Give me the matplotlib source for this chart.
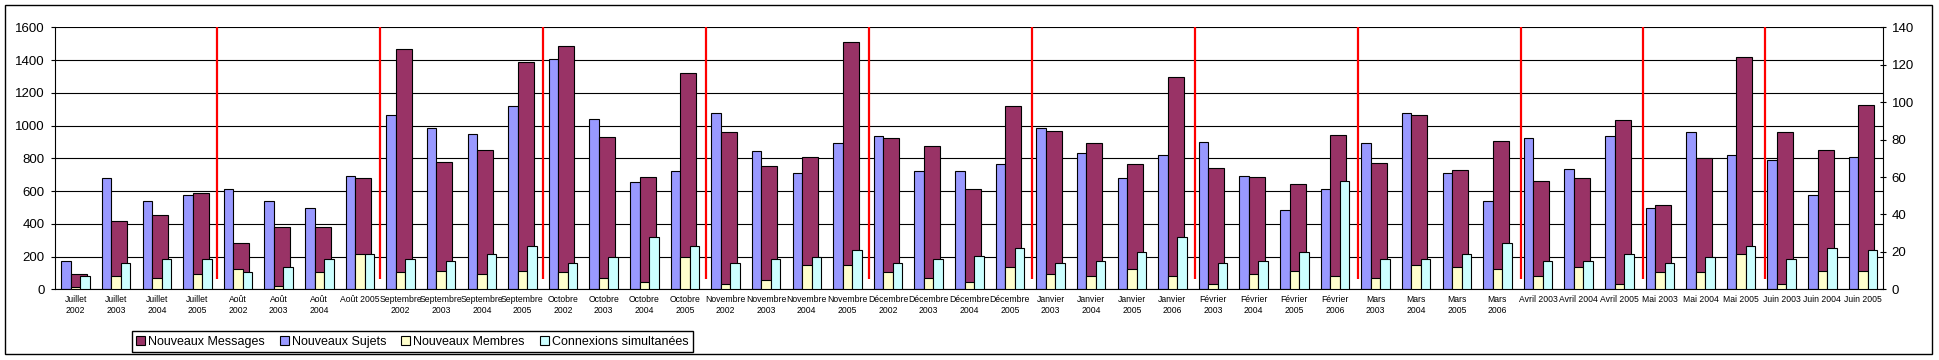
import matplotlib
matplotlib.use("Agg")
import matplotlib.pyplot as plt
from matplotlib.patches import Rectangle
import numpy as np

plt.rcParams['font.family'] = ['Liberation Sans', 'DejaVu Sans']

categories = [
    "Juillet\n2002", "Juillet\n2003", "Juillet\n2004", "Juillet\n2005",
    "Août\n2002", "Août\n2003", "Août\n2004", "Août 2005",
    "Septembre\n2002", "Septembre\n2003", "Septembre\n2004", "Septembre\n2005",
    "Octobre\n2002", "Octobre\n2003", "Octobre\n2004", "Octobre\n2005",
    "Novembre\n2002", "Novembre\n2003", "Novembre\n2004", "Novembre\n2005",
    "Décembre\n2002", "Décembre\n2003", "Décembre\n2004", "Décembre\n2005",
    "Janvier\n2003", "Janvier\n2004", "Janvier\n2005", "Janvier\n2006",
    "Février\n2003", "Février\n2004", "Février\n2005", "Février\n2006",
    "Mars\n2003", "Mars\n2004", "Mars\n2005", "Mars\n2006",
    "Avril 2003", "Avril 2004", "Avril 2005",
    "Mai 2003", "Mai 2004", "Mai 2005",
    "Juin 2003", "Juin 2004", "Juin 2005",
]
months = [c.split()[0] for c in categories]

# primary axis (left)
messages = [92, 417, 452, 586, 281, 379, 379, 678, 1466, 776, 849, 1386,
            1484, 928, 684, 1319, 959, 751, 806, 1508, 922, 873, 611, 1118,
            965, 892, 763, 1295, 739, 684, 641, 940, 769, 1063, 727, 904,
            660, 678, 1032, 513, 800, 1417, 959, 849, 1124]
sujets = [171, 678, 537, 574, 611, 537, 495, 690, 1063, 983, 947, 1118,
          1405, 1038, 653, 721, 1075, 843, 708, 892, 934, 721, 721, 763,
          983, 831, 678, 818, 898, 690, 482, 611, 892, 1075, 708, 537,
          922, 733, 934, 495, 959, 818, 788, 574, 806]
# secondary axis (right)
membres = [1, 7, 6, 8, 11, 2, 9, 19, 9, 10, 8, 10, 9, 6, 4, 17, 3, 5, 13, 13,
           9, 6, 4, 12, 8, 7, 11, 7, 3, 8, 10, 7, 6, 13, 12, 11, 7, 12, 3,
           9, 9, 19, 3, 10, 10]
connexions = [7, 14, 16, 16, 9, 12, 16, 19, 16, 15, 19, 23, 14, 17, 28, 23,
              14, 16, 17, 21, 14, 16, 18, 22, 14, 15, 20, 28, 14, 15, 20, 58,
              16, 16, 19, 25, 15, 15, 19, 14, 17, 23, 16, 22, 21]

series_names = ["Nouveaux Messages", "Nouveaux Sujets", "Nouveaux Membres",
                "Connexions simultanées"]
colors = ["#993366", "#9999FF", "#FFFFCC", "#CCFFFF"]

W, H = 1939, 360
fig = plt.figure(figsize=(W / 100, H / 100), dpi=100)
ax = fig.add_axes([55.3 / W, (H - 289.3) / H, (1883.3 - 55.3) / W, (289.3 - 27.3) / H])
ax2 = ax.twinx()

x = np.arange(len(categories))
bw = 0.234
lw = 0.8
ax.bar(x - bw, sujets, width=bw, color=colors[1], edgecolor='black', linewidth=lw, zorder=2)
ax.bar(x - bw / 2, messages, width=0.394, align='edge', color=colors[0],
       edgecolor='black', linewidth=lw, zorder=2)
ax2.bar(x, membres, width=bw, color=colors[2], edgecolor='black', linewidth=lw, zorder=2)
ax2.bar(x + bw, connexions, width=bw, color=colors[3], edgecolor='black', linewidth=lw, zorder=2)

# month separators (hand-placed in the original, drifting slightly right)
seps = [i + 0.5 for i in range(len(months) - 1) if months[i] != months[i + 1]]
drift = np.linspace(-0.03, 0.1, len(seps))
ax.vlines(np.array(seps) + drift, 65, 1600, color='#FF0000', linewidth=1.6, zorder=3)

ax.set_xlim(-0.5, len(categories) - 0.5)
ax.set_ylim(0, 1600)
ax2.set_ylim(0, 140)
ax.set_yticks(np.arange(0, 1601, 200))
ax2.set_yticks(np.arange(0, 141, 20))
ax.set_xticks(x)
ax.set_xticklabels(categories, fontsize=6.2, linespacing=1.3)
ax.tick_params(axis='x', length=0, pad=4)
ax.tick_params(axis='y', direction='out', length=3, width=0.8, labelsize=9.5, pad=4.5)
ax2.tick_params(axis='y', direction='inout', length=5, width=0.8, labelsize=9.5, pad=3.5)

ax.yaxis.grid(True, color='black', linewidth=0.8)
ax.set_axisbelow(True)

for s in ['top', 'right']:
    ax.spines[s].set_visible(False)
for s in ['top', 'left', 'bottom']:
    ax2.spines[s].set_visible(False)
ax.spines['left'].set_linewidth(0.8)
ax.spines['bottom'].set_linewidth(0.8)
ax2.spines['right'].set_linewidth(0.8)

handles = [Rectangle((0, 0), 1, 1, facecolor=c, edgecolor='black', linewidth=0.8) for c in colors]
leg = fig.legend(handles, series_names, loc='lower left',
                 bbox_to_anchor=(132 / W, 8 / H), ncol=4, frameon=True,
                 fancybox=False, edgecolor='black', framealpha=1, fontsize=9,
                 handlelength=0.7, handleheight=0.7, handletextpad=0.25,
                 columnspacing=1.2, borderpad=0.35, borderaxespad=0)
leg.get_frame().set_linewidth(1.0)

fig.add_artist(Rectangle((5 / W, 6 / H), 1927 / W, 349 / H, transform=fig.transFigure,
                         fill=False, linewidth=1.0, edgecolor='black'))

fig.savefig('out.png', dpi=100)
